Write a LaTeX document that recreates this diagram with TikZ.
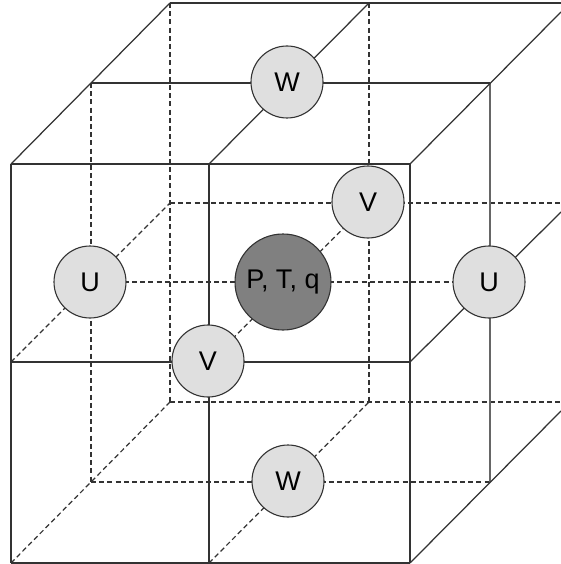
\documentclass[tikz,border=0pt]{standalone}
\usepackage{fontspec}
\setmainfont{Liberation Sans}
\definecolor{lightcell}{HTML}{DFDFDF}
\definecolor{darkcell}{HTML}{808080}
\definecolor{wire}{HTML}{333333}
\tikzset{
  solidline/.style={draw=wire,line width=1.25pt},
  greyline/.style={draw=wire!75,line width=1.4pt},
  dashline/.style={draw=wire,line width=1.2pt,dash pattern=on 5pt off 3.2pt},
  cell/.style={circle,draw=wire,line width=1.1pt,fill=lightcell,minimum size=72pt,inner sep=0pt,font=\fontsize{27}{27}\selectfont},
  bigcell/.style={cell,fill=darkcell,minimum size=96pt}
}
\begin{document}
\begin{tikzpicture}[x=1pt,y=-1pt]
\useasboundingbox (0,0) rectangle (561,564);
% front plane
\coordinate (f11) at (11,164); \coordinate (f12) at (209,164); \coordinate (f13) at (410,164);
\coordinate (f21) at (11,362); \coordinate (f22) at (209,362); \coordinate (f23) at (410,362);
\coordinate (f31) at (11,563); \coordinate (f32) at (209,563); \coordinate (f33) at (410,563);
% middle plane
\coordinate (m11) at (91,83);  \coordinate (m13) at (490,83);
\coordinate (m21) at (91,282); \coordinate (m23) at (490,282);
\coordinate (m31) at (91,482); \coordinate (m33) at (490,482);
% back plane
\coordinate (b11) at (170,3);   \coordinate (b12) at (369,3);   \coordinate (b13) at (561,3);
\coordinate (b21) at (170,203); \coordinate (b22) at (369,203); \coordinate (b23) at (561,203);
\coordinate (b31) at (170,402); \coordinate (b32) at (369,402); \coordinate (b33) at (561,402);
% free ends of the depth lines at the right edge
\coordinate (e1) at (561,12); \coordinate (e2) at (561,212); \coordinate (e3) at (561,411);
% hidden lines
\draw[dashline] (m11) -- (m31);
\draw[dashline] (b11) -- (b31);
\draw[dashline] (b12) -- (b32);
\draw[dashline] (b21) -- (b23);
\draw[dashline] (b31) -- (b33);
\draw[dashline] (m21) -- (m23);
\draw[dashline] (m31) -- (m33);
\draw[dashline] (f21) -- (b21);
\draw[dashline] (f31) -- (b31);
\draw[dashline] (f22) -- (b22);
\draw[dashline] (f32) -- (b32);
% visible lines
\draw[solidline] (f11) -- (f13);
\draw[solidline] (f21) -- (f23);
\draw[solidline] (f31) -- (f33);
\draw[solidline] (f11) -- (f31);
\draw[solidline] (f12) -- (f32);
\draw[solidline] (f13) -- (f33);
\draw[solidline] (b11) -- (b13);
\draw[solidline] (m11) -- (m13);
\draw[greyline] (m13) -- (m33);
\draw[solidline] (f11) -- (b11);
\draw[solidline] (f12) -- (b12);
\draw[solidline] (f13) -- (e1);
\draw[solidline] (f23) -- (e2);
\draw[solidline] (f33) -- (e3);
% cells
\node[cell] (wtop) at (287,82) {W};
\node[cell] (vback) at (368,202) {V};
\node[cell] (uleft) at (90,282) {U};
\node[cell] (uright) at (489,282) {U};
\node[bigcell] (centre) at (283,282) {P, T, q};
\node[cell] (vfront) at (208,361) {V};
\node[cell] (wbot) at (288,481) {W};
\end{tikzpicture}
\end{document}
